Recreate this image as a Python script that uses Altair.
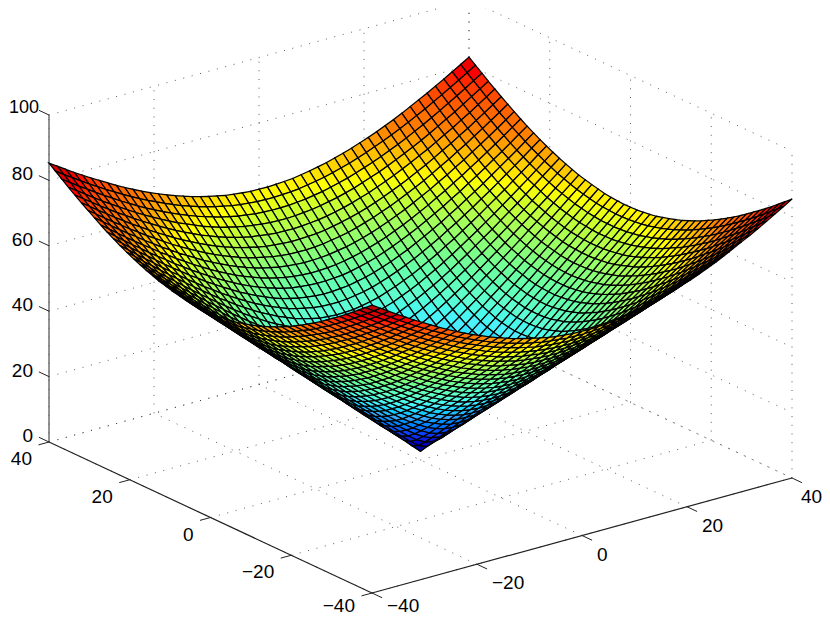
import altair as alt

AXIS_TICKS = [-40, -20, 0, 20, 40]
Z_TICKS = [0, 20, 40, 60, 80, 100]
STEP = 1.6
# Surface heights (tenths of a z unit), one row per grid index a, columns b = a..25; mirrored across the axes.
Z_TENTHS = [
 [27,50,74,97,120,144,167,191,214,237,261,284,307,331,354,377,401,424,447,471,494,518,541,564,588,611],
 [60,79,101,123,146,169,192,215,239,262,285,308,332,355,378,402,425,448,471,495,518,541,565,588,611],
 [93,111,131,153,175,197,220,242,265,288,311,334,357,381,404,427,450,473,497,520,543,566,590,613],
 [126,144,163,184,205,227,249,271,293,316,339,362,384,407,430,453,476,499,523,546,569,592,615],
 [159,177,195,215,236,257,279,300,322,345,367,390,412,435,458,481,503,526,549,572,595,618],
 [192,209,228,247,268,288,309,331,352,374,396,419,441,463,486,509,531,554,577,600,623],
 [225,242,261,280,299,320,340,362,383,404,426,448,470,492,515,537,560,582,605,628],
 [258,275,293,312,332,352,372,393,414,435,457,478,500,522,544,566,589,611,634],
 [291,308,326,345,364,384,404,424,445,466,487,509,530,552,574,596,618,640],
 [324,341,359,377,396,416,436,456,476,497,518,539,561,582,604,626,648],
 [357,374,392,410,429,448,468,488,508,529,549,570,592,613,634,656],
 [390,407,425,443,462,481,500,520,540,560,581,602,623,644,665],
 [423,440,458,476,494,513,532,552,572,592,612,633,654,675],
 [457,473,491,509,527,546,565,584,604,624,644,665,685],
 [490,506,524,541,560,578,597,617,636,656,676,696],
 [523,539,557,574,592,611,630,649,668,688,708],
 [556,572,590,607,625,644,662,681,701,720],
 [589,605,623,640,658,676,695,714,733],
 [622,638,656,673,691,709,728,747],
 [655,671,689,706,724,742,761],
 [688,704,722,739,757,775],
 [721,737,755,772,790],
 [754,771,788,805],
 [787,804,821],
 [820,837],
 [853],
]
TILT = 2.75  # front corner sits this much above, back corner this much below, the side corners
JET_DOMAIN = [2.7, 8, 13, 22, 29, 34, 44, 54, 58, 68, 79, 88]
JET_RANGE = ["#00008f", "#0000d0", "#1040ff", "#40a8ff", "#50f0ff", "#60ffd0", "#80ff80",
             "#c8ff30", "#ffff00", "#ff8000", "#ff0000", "#b00000"]


def proj(x, y, z=0.0):
    return [round(420.5 + 5.25 * x - 4.0375 * y, 2),
            round(460.0 - 1.4375 * x - 1.8875 * y - 3.27 * z, 2)]


n = len(Z_TENTHS) - 1
idx = list(range(-n, n + 1))


def zval(i, j):
    a, b = sorted((abs(i), abs(j)))
    return Z_TENTHS[a][b - a] / 10 - TILT * (i + j) / (2 * n)


cells = []
for i in idx[:-1]:
    for j in idx[:-1]:
        c = [(i, j), (i + 1, j), (i + 1, j + 1), (i, j + 1)]
        ring = [proj(a * STEP, b * STEP, zval(a, b)) for a, b in c]
        ring.append(ring[0])
        zs = [zval(a, b) for a, b in c]
        cells.append((i + j, round(sum(zs) / 4, 2), ring))
cells.sort(key=lambda t: -t[0])
surface = [{"type": "Feature", "properties": {"z": c[1]},
            "geometry": {"type": "Polygon", "coordinates": [c[2]]}} for c in cells]


def line(a, b):
    return {"type": "Feature", "properties": {},
            "geometry": {"type": "LineString", "coordinates": [a, b]}}


grid = []
for t in AXIS_TICKS:
    grid.append(line(proj(t, -40), proj(t, 40)))
    grid.append(line(proj(-40, t), proj(40, t)))
    grid.append(line(proj(t, 40), proj(t, 40, 100)))
    grid.append(line(proj(40, t), proj(40, t, 100)))
for z in Z_TICKS:
    grid.append(line(proj(-40, 40, z), proj(40, 40, z)))
    grid.append(line(proj(40, 40, z), proj(40, -40, z)))

axes = [line(proj(-40, 40), proj(-40, -40)), line(proj(-40, -40), proj(40, -40))]
ticks = []
for t in AXIS_TICKS:
    ticks.append(line(proj(t, -40), proj(t, -42.5)))
    ticks.append(line(proj(-40, t), proj(-42, t)))
for z in Z_TICKS:
    ticks.append(line(proj(-40, 40, z), proj(-40, 42.5, z)))
zaxis = [line(proj(-40, 40), proj(-40, 40, 100))]


def fmt(v):
    return ("\u2212" + str(-v)) if v < 0 else str(v)


def pt(p, t):
    return {"lon": p[0], "lat": p[1], "t": t}


zlabels = [pt(proj(-40, 40, z), fmt(z)) for z in Z_TICKS if z < 100]
ztop = [pt(proj(-40, 40, 100), fmt(100))]
ylabels = [pt(proj(-40, t), fmt(t)) for t in AXIS_TICKS if t > -40]
yend = [pt(proj(-40, -40), fmt(-40))]
xlabels = [pt(proj(t, -40), fmt(t)) for t in AXIS_TICKS if -40 < t < 40]
xfirst = [pt(proj(-40, -40), fmt(-40))]
xlast = [pt(proj(40, -40), fmt(40))]

P = dict(type="identity", scale=1, translate=[-8, -8])
FONT = "Liberation Sans"


def geo(vals, **kw):
    return alt.Chart(alt.Data(values=vals)).mark_geoshape(filled=False, **kw).project(**P)


def txt(vals, size=19, **kw):
    return alt.Chart(alt.Data(values=vals)).mark_text(font=FONT, fontSize=size, color="black", **kw).encode(
        longitude="lon:Q", latitude="lat:Q", text="t:N").project(**P)


surf = alt.Chart(alt.Data(values=surface)).mark_geoshape(stroke="#000000", strokeWidth=1.25).encode(
    color=alt.Color("properties.z:Q", scale=alt.Scale(domain=JET_DOMAIN, range=JET_RANGE), legend=None)
).project(**P)

chart = alt.layer(
    geo(grid, stroke="#333333", strokeWidth=0.8, strokeDash=[1, 7.7]),
    geo(zaxis, stroke="#666666", strokeWidth=1.4),
    geo(axes, stroke="#222222", strokeWidth=1.2),
    geo(ticks, stroke="#222222", strokeWidth=1.0),
    surf,
    txt(zlabels, align="right", dx=-16, dy=-6),
    txt(ztop, size=18, align="right", dx=-10, dy=-7),
    txt(ylabels, align="right", dx=-17, dy=17),
    txt(yend, align="right", dx=-17, dy=13),
    txt(xlabels, align="left", dx=15, dy=19),
    txt(xfirst, align="left", dx=15, dy=13),
    txt(xlast, align="left", dx=9, dy=19),
).properties(width=814, height=607, padding=0, autosize=alt.AutoSizeParams(type="none")
).configure_view(stroke=None).configure(background="white")

chart.save("out.html", embed_options={"renderer": "svg", "actions": False})
